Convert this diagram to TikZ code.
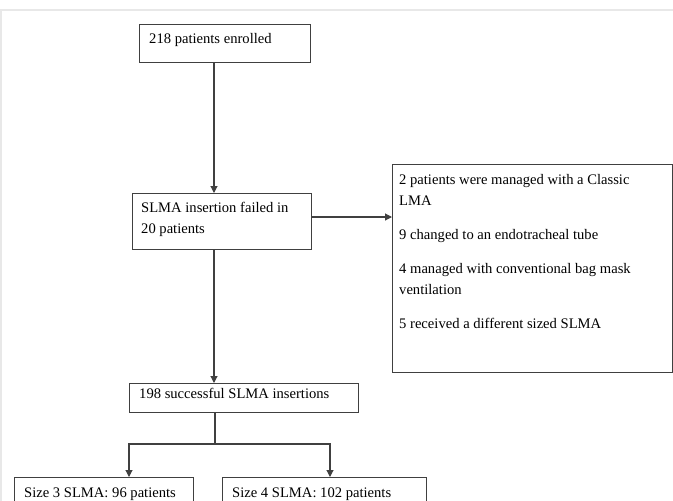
\documentclass[tikz,border=0pt]{standalone}
\usepackage{fontspec}
\setmainfont{Liberation Serif}
\usetikzlibrary{arrows.meta}
\begin{document}
\begin{tikzpicture}[x=1pt,y=-1pt,
  box/.style={draw=black!75,line width=1.3pt,rectangle,inner sep=0pt,anchor=north west},
  txt/.style={anchor=base west,inner sep=0pt,font=\fontsize{14.6}{21}\selectfont,text=black},
  conn/.style={draw=black!75,line width=1.1pt},
  arr/.style={conn,-{Triangle[length=7pt,width=7pt]}},
  frame/.style={draw=black!9,line width=1.2pt}]
\clip (0,0) rectangle (673,501);
\useasboundingbox (0,0) rectangle (673,501);
\draw[frame] (0,10) -- (673,10);
\draw[frame] (1,10) -- (1,501);
% boxes
\node[box,minimum width=171pt,minimum height=38pt] (b1) at (139,24) {};
\node[box,minimum width=179pt,minimum height=56pt] (b2) at (132,193) {};
\node[box,minimum width=280pt,minimum height=208pt] (b3) at (392,164) {};
\node[box,minimum width=229pt,minimum height=29pt] (b4) at (129,383) {};
\node[box,minimum width=179pt,minimum height=50pt] (b5) at (14,477) {};
\node[box,minimum width=204pt,minimum height=50pt] (b6) at (222,477) {};
% texts
\node[txt] (t1) at (149,43) {218 patients enrolled};
\node[txt] (t2a) at (141,212) {SLMA insertion failed in};
\node[txt] (t2b) at (141,233) {20 patients};
\node[txt] (t3a) at (399,184) {2 patients were managed with a Classic};
\node[txt] (t3b) at (399,205) {LMA};
\node[txt] (t3c) at (399,239) {9 changed to an endotracheal tube};
\node[txt] (t3d) at (399,273) {4 managed with conventional bag mask};
\node[txt] (t3e) at (399,294) {ventilation};
\node[txt] (t3f) at (399,328) {5 received a different sized SLMA};
\node[txt] (t4) at (139,398) {198 successful SLMA insertions};
\node[txt] (t5) at (24,497) {Size 3 SLMA: 96 patients};
\node[txt] (t6) at (232,497) {Size 4 SLMA: 102 patients};
% connectors
\coordinate (sp) at (214,0);
\coordinate (sp2) at (215,0);
\coordinate (hy) at (0,217);
\coordinate (jn) at (215,444);
\coordinate (lx) at (129,0);
\coordinate (rx) at (330,0);
\draw[arr] (b1.south -| sp) -- (b2.north -| sp);
\draw[arr] (b2.east |- hy) -- (b3.west |- hy);
\draw[arr] (b2.south -| sp) -- (b4.north -| sp);
\draw[conn] (b4.south -| sp2) -- (jn);
\draw[arr] (jn) -| (b5.north -| lx);
\draw[arr] (jn) -| (b6.north -| rx);
\end{tikzpicture}
\end{document}
